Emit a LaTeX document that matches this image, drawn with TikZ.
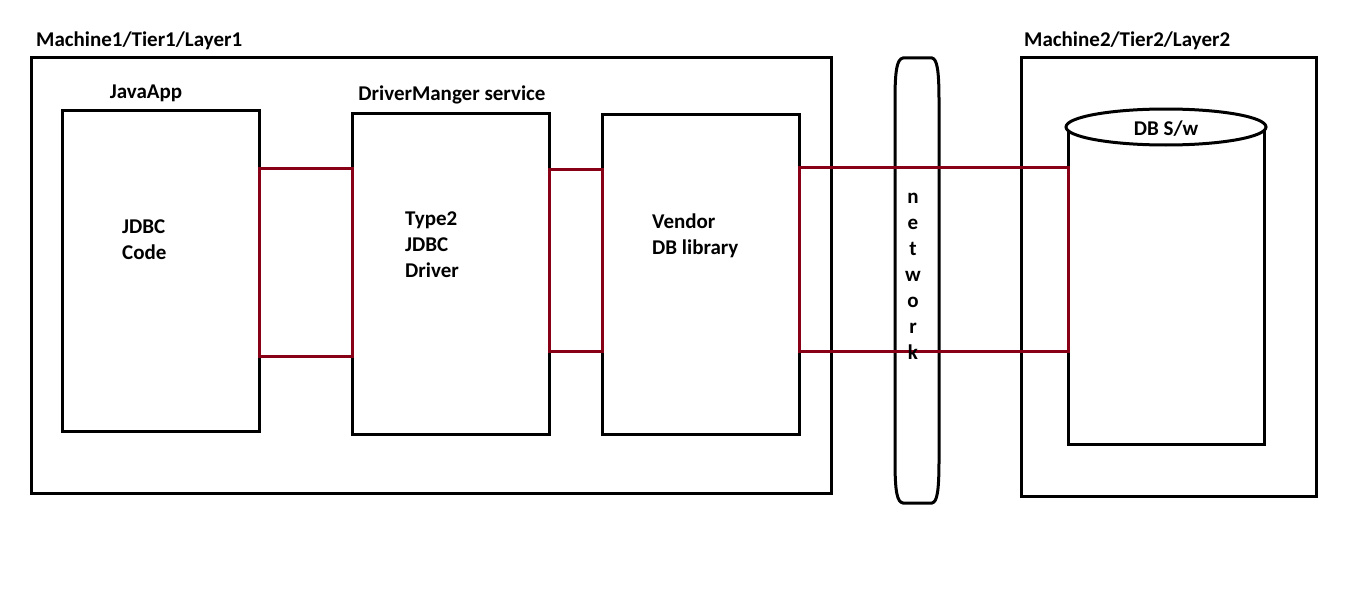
\documentclass[tikz,border=0pt]{standalone}
\usepackage{fontspec}
\setmainfont{Carlito}
\usetikzlibrary{shapes.geometric,calc}
\definecolor{conncol}{RGB}{136,0,21}
\begin{document}
\begin{tikzpicture}[x=1pt,y=-1pt,
  box/.style={draw=black,line width=3pt,rectangle,inner sep=0pt,outer sep=0pt},
  conn/.style={draw=conncol,line width=3pt},
  lbl/.style={font=\fontsize{21}{26}\selectfont\bfseries,inner sep=0pt},
  txt/.style={font=\fontsize{21}{26}\selectfont\bfseries,inner sep=0pt,align=left,anchor=north west}]
\useasboundingbox[fill=white] (0,0) rectangle (1360,594);
% outer machines
\node[box,minimum width=800pt,minimum height=435pt] (m1) at (431,275.5) {};
\node[box,minimum width=295pt,minimum height=438pt] (m2) at (1168.5,277) {};
\node[lbl,anchor=west] (m1l) at (36,41) {Machine1/Tier1/Layer1};
\node[lbl,anchor=west] (m2l) at (1024,41) {Machine2/Tier2/Layer2};
% inner boxes
\node[box,minimum width=197pt,minimum height=321pt] (java) at (160.5,270.5) {};
\node[box,minimum width=197pt,minimum height=321pt] (drv) at (450.5,273.5) {};
\node[box,minimum width=197pt,minimum height=320pt] (vend) at (700.5,274) {};
\node[lbl] (javal) at (146,93) {JavaApp};
\node[lbl] (drvl) at (452,95) {DriverManger service};
\node[txt] (javat) at (122,220) {JDBC\\Code};
\node[txt] (drvt) at (405,212) {Type2\\JDBC\\Driver};
\node[txt] (vendt) at (652,214) {Vendor\\DB library};
% network
\draw[line width=3pt] (903,58) -- (932,58) .. controls (937,59) and (939,70) .. (939,100) -- (939,460) .. controls (939,492) and (937,502) .. (932,503) -- (903,503) .. controls (897,502) and (895,492) .. (895,460) -- (895,100) .. controls (895,70) and (897,59) .. (903,58) -- cycle;
% DB cylinder
\draw[line width=3pt] (1068,127) -- (1068,444) -- (1264,444) -- (1264,127);
\node[draw,line width=3pt,ellipse,minimum width=200pt,minimum height=36pt,fill=white,inner sep=0pt] (db) at (1166,127) {};
\node[lbl] (dbl) at (1166,129) {DB S/w};
\coordinate (dbw) at (1068,300);
% connectors
\coordinate (t1) at (0,168); \coordinate (b1) at (0,356);
\coordinate (t2) at (0,169); \coordinate (b2) at (0,351);
\coordinate (t3) at (0,167); \coordinate (b3) at (0,351);
\draw[conn] (java.east |- t1) -- (drv.west |- t1) -- (drv.west |- b1) -- (java.east |- b1) -- cycle;
\draw[conn] (drv.east |- t2) -- (vend.west |- t2) -- (vend.west |- b2) -- (drv.east |- b2) -- cycle;
\draw[conn] (vend.east |- t3) -- (dbw |- t3) -- (dbw |- b3) -- (vend.east |- b3) -- cycle;
% network letters
\node[font=\fontsize{21}{26}\selectfont\bfseries,inner sep=0pt,align=center,anchor=north] (nett) at (913,193) {n\\e\\t\\w\\o\\r\\k};
\end{tikzpicture}
\end{document}
